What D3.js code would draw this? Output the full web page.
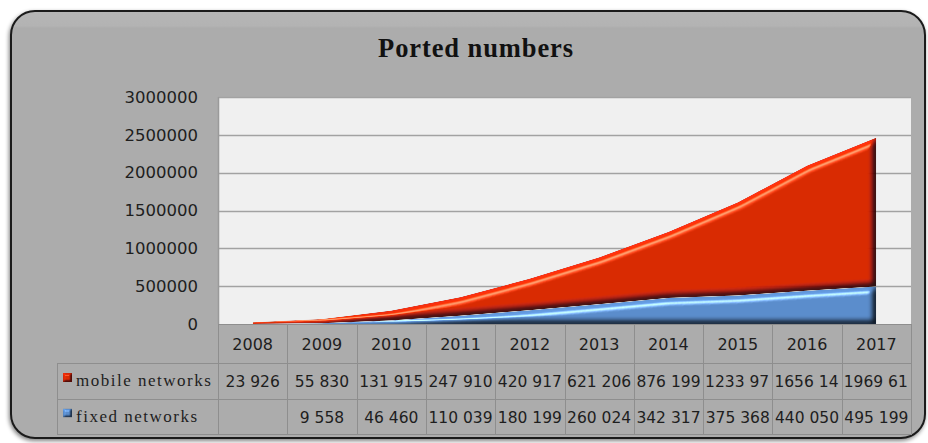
<!DOCTYPE html>
<html>
<head>
<meta charset="utf-8">
<script src="https://cdn.jsdelivr.net/npm/d3@7"></script>
<style>
  html, body { margin: 0; padding: 0; background: #ffffff; }
  svg { display: block; }
</style>
</head>
<body>
<svg id="chart" width="928" height="443"></svg>
<script>
// Ported numbers per year, split by network type
const years = ["2008", "2009", "2010", "2011", "2012", "2013", "2014", "2015", "2016", "2017"];
const mobileNetworks = [23926, 55830, 131915, 247910, 420917, 621206, 876199, 1233970, 1656140, 1969610];
const fixedNetworks = [null, 9558, 46460, 110039, 180199, 260024, 342317, 375368, 440050, 495199];
const seriesNames = ["mobile networks", "fixed networks"];
const yTicks = [0, 500000, 1000000, 1500000, 2000000, 2500000, 3000000];
const chartTitle = "Ported numbers";

const W = 928, H = 443;
const plot = { left: 218, right: 911, top: 97, bottom: 324 };
const rows = { years: [324, 363], mobile: [363, 399], fixed: [399, 434] };
const tableLeft = 57;

const svg = d3.select("#chart");
const defs = svg.append("defs");

// frame shading
const frameGrad = defs.append("linearGradient").attr("id", "frameGrad")
  .attr("x1", 0).attr("y1", 0).attr("x2", 0).attr("y2", 1);
frameGrad.append("stop").attr("offset", "0").attr("stop-color", "#b6b6b6");
frameGrad.append("stop").attr("offset", "0.035").attr("stop-color", "#b3b3b3");
frameGrad.append("stop").attr("offset", "0.04").attr("stop-color", "#acacac");
frameGrad.append("stop").attr("offset", "1").attr("stop-color", "#acacac");

const shadow = defs.append("filter").attr("id", "frameShadow")
  .attr("color-interpolation-filters", "sRGB")
  .attr("x", "-5%").attr("y", "-5%").attr("width", "110%").attr("height", "115%");
shadow.append("feGaussianBlur").attr("in", "SourceAlpha").attr("stdDeviation", 2).attr("result", "b");
shadow.append("feOffset").attr("in", "b").attr("dx", -1).attr("dy", 2).attr("result", "o");
shadow.append("feComponentTransfer").attr("in", "o").attr("result", "s")
  .append("feFuncA").attr("type", "linear").attr("slope", 0.5);
const sm = shadow.append("feMerge");
sm.append("feMergeNode").attr("in", "s");
sm.append("feMergeNode").attr("in", "SourceGraphic");

// bevel lighting for the area shapes
function bevelFilter(id, blur, scale, specK, specExp, shade, az) {
  const el = 50, rad = Math.PI / 180;
  const f = defs.append("filter").attr("id", id)
    .attr("color-interpolation-filters", "sRGB")
    .attr("x", "-5%").attr("y", "-10%").attr("width", "110%").attr("height", "120%");
  f.append("feGaussianBlur").attr("in", "SourceAlpha").attr("stdDeviation", blur).attr("result", "blur");
  const diff = f.append("feDiffuseLighting").attr("in", "blur").attr("surfaceScale", scale)
    .attr("diffuseConstant", 1).attr("lighting-color", "#ffffff").attr("result", "diff");
  diff.append("feDistantLight").attr("azimuth", az).attr("elevation", el);
  f.append("feComposite").attr("in", "SourceGraphic").attr("in2", "diff")
    .attr("operator", "arithmetic")
    .attr("k1", shade / Math.sin(el * rad)).attr("k2", 1 - shade).attr("result", "shaded");
  const spec = f.append("feSpecularLighting").attr("in", "blur").attr("surfaceScale", scale)
    .attr("specularConstant", 1).attr("specularExponent", specExp).attr("lighting-color", "#ffffff").attr("result", "spec");
  spec.append("feDistantLight").attr("azimuth", 250).attr("elevation", el);
  f.append("feComposite").attr("in", "spec").attr("in2", "SourceAlpha").attr("operator", "in").attr("result", "specIn");
  f.append("feComposite").attr("in", "shaded").attr("in2", "SourceAlpha").attr("operator", "in").attr("result", "shadedIn");
  const flat = specK * Math.pow(Math.cos((90 - el) / 2 * rad), specExp);
  f.append("feComposite").attr("in", "shadedIn").attr("in2", "specIn")
    .attr("operator", "arithmetic").attr("k2", 1).attr("k3", specK).attr("k4", -flat).attr("result", "lit");
  f.append("feComposite").attr("in", "lit").attr("in2", "SourceAlpha").attr("operator", "in");
}
bevelFilter("bevel", 3, 5, 0.5, 30, 0.85, 220);
bevelFilter("bevelSmall", 1, 3, 0.3, 30, 0.6, 225);

// outer frame
svg.append("rect")
  .attr("x", 11).attr("y", 11).attr("width", 914).attr("height", 427)
  .attr("rx", 24).attr("ry", 24)
  .attr("fill", "url(#frameGrad)")
  .attr("stroke", "#1b1b1b").attr("stroke-width", 2)
  .attr("filter", "url(#frameShadow)");

// title
svg.append("text")
  .attr("x", 476).attr("y", 57)
  .attr("text-anchor", "middle")
  .attr("font-family", "'Liberation Serif', 'Times New Roman', serif")
  .attr("font-weight", "bold").attr("font-size", 26.5)
  .attr("letter-spacing", 0.9)
  .attr("fill", "#111")
  .text(chartTitle);

// scales
const x = d3.scaleBand().domain(years).range([plot.left, plot.right]).padding(0);
const y = d3.scaleLinear().domain([0, 3000000]).range([plot.bottom, plot.top]);
const cx = d => x(d) + x.bandwidth() / 2;

// plot background
svg.append("rect")
  .attr("x", plot.left).attr("y", plot.top)
  .attr("width", plot.right - plot.left).attr("height", plot.bottom - plot.top)
  .attr("fill", "#f0f0f0");

// gridlines
svg.append("g").selectAll("line").data(yTicks.filter(t => t > 0)).join("line")
  .attr("x1", plot.left).attr("x2", plot.right)
  .attr("y1", d => Math.round(y(d)) + 0.5).attr("y2", d => Math.round(y(d)) + 0.5)
  .attr("stroke", "#a2a2a2").attr("stroke-width", 1.6);

svg.append("line")
  .attr("x1", plot.left + 0.5).attr("x2", plot.left + 0.5)
  .attr("y1", plot.top).attr("y2", plot.bottom)
  .attr("stroke", "#9a9a9a").attr("stroke-width", 1.5);

// y axis labels
const yAxis = d3.axisLeft(y).tickValues(yTicks).tickSize(0).tickPadding(20)
  .tickFormat(d3.format("d"));
const yg = svg.append("g").attr("transform", `translate(${plot.left},0)`).call(yAxis);
yg.select(".domain").remove();
yg.selectAll("text")
  .attr("font-family", "'DejaVu Sans', Verdana, sans-serif")
  .attr("font-size", 16.5).attr("fill", "#1e1e1e");

// stacked areas
const table = years.map((yr, i) => ({ year: yr, mobile: mobileNetworks[i], fixed: fixedNetworks[i] || 0 }));
const stack = d3.stack().keys(["fixed", "mobile"]);
const stacked = stack(table);
const area = d3.area()
  .x(d => cx(d.data.year))
  .y0(d => y(d[0]))
  .y1(d => y(d[1]))
  .curve(d3.curveLinear);
const colors = { mobile: "#d92b02", fixed: "#5b8dcc" };

svg.append("g").selectAll("path").data(stacked.slice().reverse()).join("path")
  .attr("d", area)
  .attr("fill", d => colors[d.key])
  .attr("filter", "url(#bevel)");

// data table
const tg = svg.append("g");
const gridColor = "#8e8e8e";
const line = (x1, y1, x2, y2) => tg.append("line")
  .attr("x1", x1).attr("y1", y1).attr("x2", x2).attr("y2", y2)
  .attr("stroke", gridColor).attr("stroke-width", 1);

// vertical lines between columns
years.forEach(yr => line(Math.round(x(yr)) + 0.5, rows.years[0], Math.round(x(yr)) + 0.5, rows.fixed[1]));
line(plot.right + 0.5, rows.years[0], plot.right + 0.5, rows.fixed[1]);
line(tableLeft + 0.5, rows.mobile[0], tableLeft + 0.5, rows.fixed[1]);
// horizontal lines
line(plot.left, rows.years[0] + 0.5, plot.right, rows.years[0] + 0.5);
line(tableLeft, rows.mobile[0] + 0.5, plot.right, rows.mobile[0] + 0.5);
line(tableLeft, rows.fixed[0] + 0.5, plot.right, rows.fixed[0] + 0.5);
line(tableLeft, rows.fixed[1] + 0.5, plot.right + 1, rows.fixed[1] + 0.5);

const numFont = "'DejaVu Sans', Verdana, sans-serif";
tg.selectAll("text.year").data(years).join("text")
  .attr("class", "year")
  .attr("x", d => cx(d)).attr("y", (rows.years[0] + rows.years[1]) / 2 + 6)
  .attr("text-anchor", "middle")
  .attr("font-family", numFont).attr("font-size", 16).attr("fill", "#1e1e1e")
  .text(d => d);

const fmt = v => v == null ? "" :
  (v >= 1000 ? Math.floor(v / 1000) + " " + String(v % 1000).padStart(3, "0") : String(v));

function valueRow(values, band) {
  const cellW = x.bandwidth();
  years.forEach((yr, i) => {
    const t = tg.append("text")
      .attr("y", (band[0] + band[1]) / 2 + 6)
      .attr("font-family", numFont).attr("font-size", 15.5).attr("fill", "#1e1e1e");
    let s = fmt(values[i]);
    t.text(s);
    if (t.node().getComputedTextLength() > cellW - 2) {
      // cell too narrow: drop trailing characters and pin to the left edge
      while (s.length && (t.text(s), t.node().getComputedTextLength() > cellW - 3)) s = s.slice(0, -1);
      t.attr("x", x(yr) + 2).attr("text-anchor", "start");
    } else {
      t.attr("x", cx(yr)).attr("text-anchor", "middle");
    }
  });
}
valueRow(mobileNetworks, rows.mobile);
valueRow(fixedNetworks, rows.fixed);

// legend keys and series names
const serif = "'Liberation Serif', 'Times New Roman', serif";
[["mobile", rows.mobile], ["fixed", rows.fixed]].forEach(([key, band], i) => {
  const my = (band[0] + band[1]) / 2;
  tg.append("rect")
    .attr("x", 63).attr("y", my - 8).attr("width", 9).attr("height", 9)
    .attr("fill", colors[key]).attr("filter", "url(#bevelSmall)");
  tg.append("text")
    .attr("x", 76).attr("y", my + 5)
    .attr("font-family", serif).attr("font-size", 17).attr("letter-spacing", 1.5)
    .attr("fill", "#1e1e1e")
    .text(seriesNames[i]);
});
</script>
</body>
</html>
